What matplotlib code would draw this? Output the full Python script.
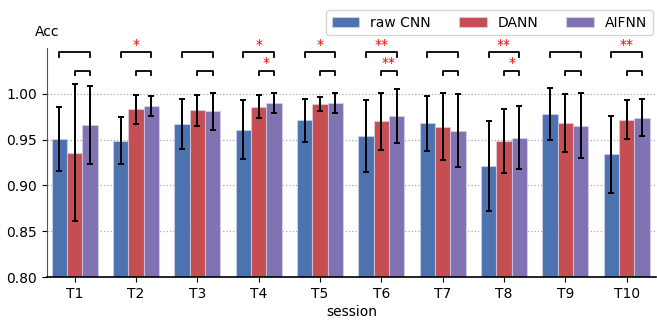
import matplotlib
matplotlib.use("Agg")
import matplotlib.pyplot as plt
import numpy as np

sessions = ["T1", "T2", "T3", "T4", "T5", "T6", "T7", "T8", "T9", "T10"]
methods = ["raw CNN", "DANN", "AIFNN"]
raw_cnn = [0.951, 0.949, 0.967, 0.961, 0.971, 0.954, 0.968, 0.921, 0.978, 0.934]
dann = [0.936, 0.983, 0.982, 0.986, 0.989, 0.970, 0.964, 0.949, 0.968, 0.972]
aifnn = [0.966, 0.987, 0.981, 0.990, 0.990, 0.976, 0.960, 0.952, 0.965, 0.974]
raw_cnn_std = [0.035, 0.0255, 0.027, 0.032, 0.024, 0.039, 0.030, 0.049, 0.0285, 0.042]
dann_std = [0.075, 0.016, 0.017, 0.0125, 0.008, 0.031, 0.0365, 0.035, 0.0315, 0.021]
aifnn_std = [0.043, 0.011, 0.0205, 0.011, 0.011, 0.0295, 0.040, 0.0345, 0.0355, 0.0205]
# significance marks: raw CNN vs AIFNN (upper), DANN vs AIFNN (lower)
sig_raw_vs_aifnn = ["", "*", "", "*", "*", "**", "", "**", "", "**"]
sig_dann_vs_aifnn = ["", "", "", "*", "", "**", "", "*", "", ""]

colors = ["#4C72B0", "#C44E52", "#8172B2"]

fig = plt.figure(figsize=(6.57, 3.21), dpi=100)
ax = fig.add_axes([0.0715, 0.137, 0.927, 0.713])

x = np.arange(len(sessions))
w = 0.25
series = [raw_cnn, dann, aifnn]
stds = [raw_cnn_std, dann_std, aifnn_std]
for i, (vals, sd, c, lab) in enumerate(zip(series, stds, colors, methods)):
    ax.bar(x + (i - 1) * w, vals, w, color=c, label=lab, edgecolor=(0.85, 0.85, 0.95, 0.6),
           linewidth=0.8, zorder=2)
    ax.errorbar(x + (i - 1) * w, vals, yerr=sd, fmt="none", ecolor="black", elinewidth=1.4,
                capsize=2.5, capthick=1.4, zorder=3)

y_up, y_lo, tick = 1.0453, 1.0255, 0.0045
for k in range(len(sessions)):
    xb, xr, xp = x[k] - w, x[k], x[k] + w
    ax.plot([xb, xb, xp, xp], [y_up - tick, y_up, y_up, y_up - tick], color="black", lw=1.3,
            clip_on=False, zorder=4)
    ax.plot([xr, xr, xp, xp], [y_lo - tick, y_lo, y_lo, y_lo - tick], color="black", lw=1.3,
            clip_on=False, zorder=4)
    if sig_raw_vs_aifnn[k]:
        ax.text(x[k], y_up + 0.0005, sig_raw_vs_aifnn[k], color="red", ha="center", va="bottom",
                fontsize=10, clip_on=False)
    if sig_dann_vs_aifnn[k]:
        ax.text(x[k] + w / 2, y_lo + 0.0005, sig_dann_vs_aifnn[k], color="red", ha="center",
                va="bottom", fontsize=10, clip_on=False)

ax.set_ylim(0.80, 1.05)
ax.set_xlim(-0.45, 9.48)
ax.set_yticks([0.80, 0.85, 0.90, 0.95, 1.00])
ax.set_yticklabels(["0.80", "0.85", "0.90", "0.95", "1.00"])
ax.set_xticks(x)
ax.set_xticklabels(sessions)
ax.tick_params(labelsize=10)
ax.yaxis.grid(True, linestyle=":", color="#aaaaaa", lw=0.9, zorder=0)
ax.set_axisbelow(True)
for s in ["top", "right"]:
    ax.spines[s].set_visible(False)
ax.spines["left"].set_color("#555555")
ax.spines["bottom"].set_color("black")
ax.spines["bottom"].set_linewidth(1.2)
ax.set_xlabel("session", fontsize=10, labelpad=3)
ax.text(0.0, 1.04, "Acc", transform=ax.transAxes, ha="center", va="bottom", fontsize=10)
ax.legend(loc="upper right", ncol=3, bbox_to_anchor=(0.995, 1.166), fontsize=10,
          frameon=True, fancybox=True, borderaxespad=0.0)

fig.savefig("out.png", dpi=100)
